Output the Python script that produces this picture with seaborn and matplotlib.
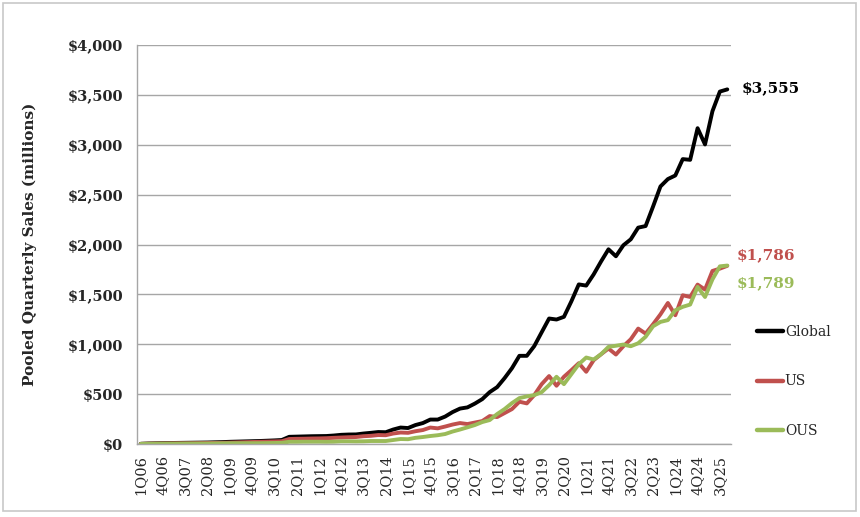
import matplotlib
matplotlib.use("Agg")
import numpy as np
import pandas as pd
import matplotlib.pyplot as plt
import seaborn as sns
from matplotlib.lines import Line2D
from matplotlib.patches import Rectangle

quarters = [f"{q}Q{y:02d}" for y in range(6, 26) for q in range(1, 5)]

global_sales = [2, 5, 7, 9, 10, 11, 12, 13, 14, 15,
                17, 19, 22, 24, 26, 28, 30, 33, 36, 40,
                72, 74, 76, 78, 79, 80, 85, 92, 95, 96,
                105, 112, 120, 118, 145, 165, 160, 190, 210, 245,
                245, 275, 320, 355, 367, 405, 450, 520, 570, 660,
                760, 884, 884, 981, 1120, 1258, 1248, 1275, 1430, 1600,
                1588, 1700, 1830, 1952, 1882, 1992, 2052, 2169, 2185, 2380,
                2582, 2656, 2692, 2856, 2849, 3166, 3003, 3336, 3533, 3555]

us_sales = [1, 3, 4, 5, 6, 7, 7, 8, 9, 10,
            11, 12, 14, 16, 18, 20, 22, 24, 26, 28,
            50, 52, 53, 55, 56, 58, 62, 65, 68, 70,
            78, 82, 90, 88, 105, 115, 112, 128, 140, 165,
            157, 175, 195, 210, 200, 215, 230, 280, 270, 310,
            350, 424, 407, 490, 600, 681, 584, 674, 740, 810,
            724, 840, 900, 957, 897, 980, 1050, 1157, 1107, 1200,
            1300, 1414, 1291, 1491, 1474, 1598, 1548, 1735, 1758, 1786]

ous_sales = [1, 2, 3, 4, 4, 4, 5, 5, 5, 5,
             6, 7, 8, 8, 8, 8, 8, 9, 10, 12,
             22, 22, 23, 23, 23, 22, 23, 27, 27, 26,
             27, 30, 30, 30, 40, 50, 48, 62, 70, 80,
             88, 100, 125, 145, 167, 190, 220, 240, 300, 350,
             410, 460, 477, 490, 520, 590, 674, 600, 700, 800,
             867, 847, 900, 974, 985, 997, 980, 1010, 1075, 1180,
             1224, 1242, 1341, 1375, 1398, 1575, 1474, 1650, 1781, 1789]

series_names = ["Global", "US", "OUS"]
colors = {"Global": "#000000", "US": "#C0504D", "OUS": "#9BBB59"}
end_labels = {"Global": "$3,555", "US": "$1,786", "OUS": "$1,789"}

n = len(quarters)
df = pd.DataFrame({
    "idx": list(range(n)) * 3,
    "sales": global_sales + us_sales + ous_sales,
    "series": ["Global"] * n + ["US"] * n + ["OUS"] * n,
})

sns.set_style("white")
plt.rcParams["font.family"] = ["DejaVu Serif"]

fig = plt.figure(figsize=(8.6, 5.17), dpi=100)
ax = fig.add_axes([137/860, 1 - 444/517, (731-137)/860, (444-45)/517])

sns.lineplot(data=df, x="idx", y="sales", hue="series", hue_order=series_names,
             palette=colors, linewidth=2.8, legend=False, ax=ax, sort=False)

ax.set_xlim(-0.5, n - 0.5)
ax.set_ylim(0, 4000)
ax.set_yticks(np.arange(0, 4001, 500))
ax.set_yticklabels([f"${v:,.0f}" for v in np.arange(0, 4001, 500)],
                   fontsize=10.5, fontweight="bold")
ax.yaxis.grid(True, color="#a6a6a6", linewidth=1)
ax.set_axisbelow(True)

label_pos = list(range(0, n, 3))
ax.set_xticks(label_pos)
ax.set_xticklabels([quarters[i] for i in label_pos], rotation=90, fontsize=10.5)
ax.set_xticks(np.arange(-0.5, n, 1), minor=True)
ax.tick_params(axis="x", which="major", length=0, pad=8)
ax.tick_params(axis="x", which="minor", length=5, color="#a6a6a6", width=1, direction="out")
ax.tick_params(axis="y", length=5, color="#a6a6a6", pad=5, direction="out")

ax.set_xlabel("")
ax.set_ylabel("Pooled Quarterly Sales (millions)", fontsize=11, fontweight="bold", labelpad=22)

for side in ["top", "right"]:
    ax.spines[side].set_visible(False)
for side in ["left", "bottom"]:
    ax.spines[side].set_color("#a6a6a6")
    ax.spines[side].set_linewidth(1)

ax.text(80.9, 3565, end_labels["Global"], color=colors["Global"], fontsize=11,
        fontweight="bold", va="center", ha="left", clip_on=False)
ax.text(80.3, 1892, end_labels["US"], color=colors["US"], fontsize=11,
        fontweight="bold", va="center", ha="left", clip_on=False)
ax.text(80.3, 1612, end_labels["OUS"], color=colors["OUS"], fontsize=11,
        fontweight="bold", va="center", ha="left", clip_on=False)

handles = [Line2D([], [], color=colors[s], linewidth=3.2) for s in series_names]
fig.legend(handles, series_names, loc="upper left",
           bbox_to_anchor=(757/860, 1 - 325/517), frameon=False,
           fontsize=10, handlelength=1.9, handletextpad=0.1,
           labelspacing=2.55, borderpad=0, borderaxespad=0)

fig.patches.append(Rectangle((3/860, 6/517), 853/860, 508/517, transform=fig.transFigure,
                             fill=False, edgecolor="#c8c8c8", linewidth=1.2))

fig.savefig("out.png", dpi=100)
